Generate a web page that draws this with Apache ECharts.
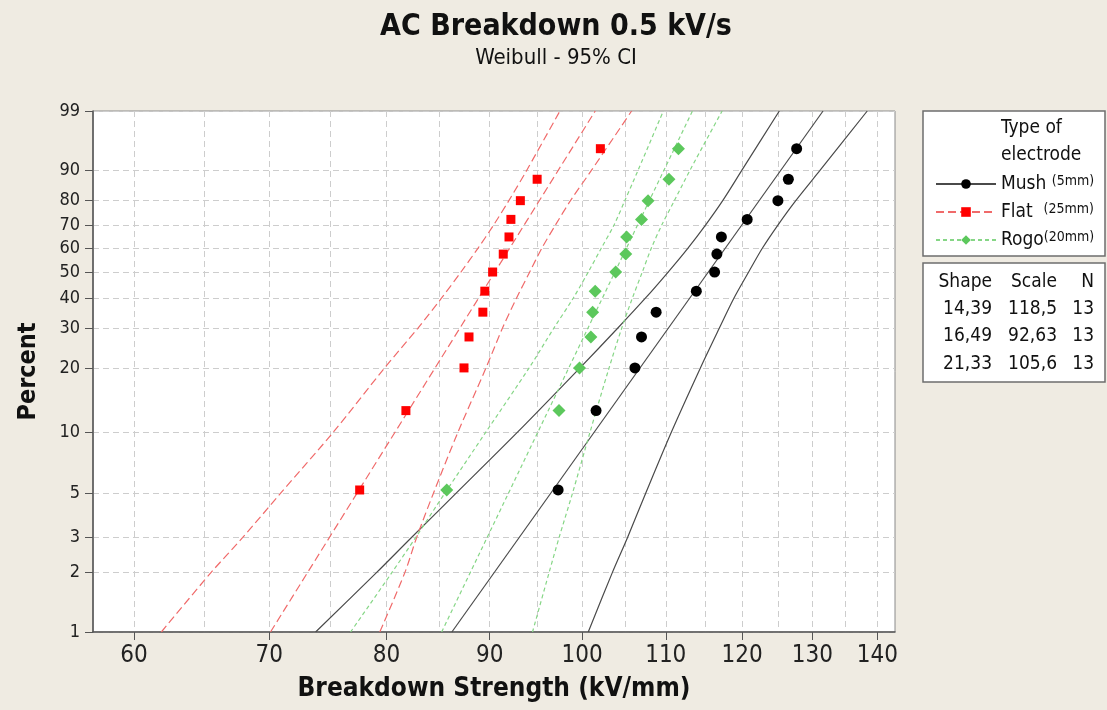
<!DOCTYPE html>
<html>
<head>
<meta charset="utf-8">
<script src="https://cdn.jsdelivr.net/npm/echarts@6/dist/echarts.min.js"></script>
<style>
  html, body { margin: 0; padding: 0; background: #efebe2; }
  #chart { width: 1107px; height: 710px; }
</style>
</head>
<body>
<div id="chart"></div>
<script>
// ---- data ----
var pctRank = [5.2, 12.7, 20.1, 27.6, 35.1, 42.5, 50, 57.5, 64.9, 72.4, 79.9, 87.3, 94.8];
var mushPts = [97.3, 101.6, 106.2, 107.0, 108.8, 113.9, 116.3, 116.6, 117.2, 120.7, 125.0, 126.5, 127.7];
var flatPts = [77.6, 81.8, 87.4, 87.9, 89.3, 89.5, 90.3, 91.4, 92.0, 92.2, 93.2, 95.0, 102.1];
var rogoPts = [85.7, 97.4, 99.7, 101.0, 101.2, 101.5, 103.9, 105.1, 105.2, 107.0, 107.8, 110.4, 111.6];

// fitted lines (percent 1 and 99)
var fitPct = [1, 99];
var mushFit = [86.2, 131.6];
var flatFit = [70.1, 101.5];
var rogoFit = [85.2, 113.4];

// 95% CI bounds
var ciPct = [1, 2, 3, 5, 10, 20, 30, 40, 50, 60, 70, 80, 90, 99];
var mushLo = [73.8, 79.1, 82.3, 86.6, 92.9, 99.7, 104.1, 107.5, 110.3, 112.8, 115.1, 117.4, 120.0, 125.2];
var mushHi = [100.7, 103.5, 105.3, 107.5, 110.7, 114.4, 116.9, 118.9, 120.9, 122.8, 125.0, 127.6, 131.2, 138.4];
var flatLo = [61.9, 65.5, 67.9, 70.9, 75.3, 79.8, 82.9, 85.2, 87.1, 88.8, 90.4, 92.0, 93.9, 97.5];
var flatHi = [79.4, 81.7, 82.8, 84.4, 86.8, 89.6, 91.3, 92.8, 94.2, 95.5, 97.0, 98.7, 101.1, 105.8];
var rogoLo = [76.8, 80.5, 82.7, 85.5, 89.6, 94.1, 96.8, 99.0, 100.7, 102.2, 103.7, 105.0, 106.6, 109.7];
var rogoHi = [94.5, 96.3, 97.4, 98.9, 100.9, 103.1, 104.6, 105.9, 107.1, 108.2, 109.5, 111.1, 113.1, 117.3];

// table
var shapes = [14.39, 16.49, 21.33];
var scales = [118.5, 92.63, 105.6];
var counts = [13, 13, 13];

// axes
var xMin = 57.26, xMax = 142.85;
var xMajor = [60, 70, 80, 90, 100, 110, 120, 130, 140];
var xGrid = [60, 65, 70, 75, 80, 85, 90, 95, 100, 105, 110, 115, 120, 125, 130, 135, 140];
var yTicks = [1, 2, 3, 5, 10, 20, 30, 40, 50, 60, 70, 80, 90, 99];

var FONT = '"DejaVu Sans Condensed", "DejaVu Sans", sans-serif';

// weibull paper: log x, log(-log(1-p)) y
function tx(v) { return Math.log(v); }
function ty(p) { return Math.log(-Math.log(1 - p / 100)); }
function pairs(vals, pcts) {
  return vals.map(function (v, i) { return [tx(v), ty(pcts[i])]; });
}

var groups = [
  { name: 'Mush', pts: mushPts, fit: mushFit, lo: mushLo, hi: mushHi,
    symbol: 'circle', size: 11, color: '#000000', line: '#4a4a4a', dash: 'solid' },
  { name: 'Flat', pts: flatPts, fit: flatFit, lo: flatLo, hi: flatHi,
    symbol: 'rect', size: 9, color: '#ff0000', line: '#f06a6a', dash: [8, 4] },
  { name: 'Rogo', pts: rogoPts, fit: rogoFit, lo: rogoLo, hi: rogoHi,
    symbol: 'diamond', size: 13, color: '#5cc85c', line: '#86d686', dash: [4, 3] }
];
var legendLabel = {
  Mush: 'Mush {s|(5mm)}',
  Flat: 'Flat  {s|(25mm)}',
  Rogo: 'Rogo{s|(20mm)}'
};

var series = [];
groups.forEach(function (g) {
  var ls = { color: g.line, width: 1.2, type: g.dash };
  series.push({
    name: g.name, type: 'line', data: pairs(g.fit, fitPct),
    symbol: g.symbol, symbolSize: g.size, showSymbol: false,
    itemStyle: { color: g.color }, lineStyle: ls, silent: true, z: 3
  });
  [g.lo, g.hi].forEach(function (b) {
    series.push({
      name: g.name + ' CI', type: 'line', data: pairs(b, ciPct),
      symbol: 'none', smooth: 0.3, lineStyle: ls, silent: true, z: 3
    });
  });
  series.push({
    name: g.name + ' data', type: 'scatter', data: pairs(g.pts, pctRank),
    symbol: g.symbol, symbolSize: g.size,
    itemStyle: { color: g.color, opacity: 1 }, z: 4
  });
});

function txt(x, y, s, size, align, weight) {
  return {
    type: 'text', x: x, y: y, z: 10,
    style: {
      text: s, fill: '#111', align: align || 'left', verticalAlign: 'middle',
      font: (weight || 'normal') + ' ' + size + 'px ' + FONT
    }
  };
}

var graphics = [
  { type: 'rect', x: 923, y: 111, z: 1, shape: { width: 182, height: 145 },
    style: { fill: '#ffffff', stroke: '#6e6e6e', lineWidth: 1.5 } },
  { type: 'rect', x: 923, y: 263, z: 1, shape: { width: 182, height: 119 },
    style: { fill: '#ffffff', stroke: '#6e6e6e', lineWidth: 1.5 } },
  txt(556, 27, 'AC Breakdown 0.5 kV/s', 30, 'center', 'bold'),
  txt(556, 58, 'Weibull - 95% CI', 22, 'center'),
  txt(1001, 128, 'Type of', 19),
  txt(1001, 155, 'electrode', 19),
  txt(992, 282, 'Shape', 19, 'right'),
  txt(1057, 282, 'Scale', 19, 'right'),
  txt(1094, 282, 'N', 19, 'right')
];
shapes.forEach(function (s, i) {
  var y = 309 + i * 27.5;
  graphics.push(txt(992, y, s.toFixed(2).replace('.', ','), 19, 'right'));
  graphics.push(txt(1057, y, scales[i].toPrecision(4).replace('.', ','), 19, 'right'));
  graphics.push(txt(1094, y, String(counts[i]), 19, 'right'));
});

var chart = echarts.init(document.getElementById('chart'));
chart.setOption({
  backgroundColor: '#efebe2',
  animation: false,
  grid: {
    left: 93, top: 111, right: 212, bottom: 78,
    show: true, backgroundColor: '#ffffff', borderColor: '#8a8a8a', borderWidth: 1
  },
  legend: {
    data: ['Mush', 'Flat', 'Rogo'],
    orient: 'vertical', left: 930, top: 169,
    itemWidth: 60, itemHeight: 12, itemGap: 8,
    selectedMode: false,
    formatter: function (n) { return legendLabel[n]; },
    textStyle: {
      fontFamily: FONT, fontSize: 19, color: '#111', lineHeight: 20,
      rich: { s: { fontFamily: FONT, fontSize: 14, color: '#111', verticalAlign: 'top', lineHeight: 16 } }
    }
  },
  xAxis: [{
    type: 'value', min: tx(xMin), max: tx(xMax),
    name: 'Breakdown Strength (kV/mm)', nameLocation: 'middle', nameGap: 44,
    nameTextStyle: { fontFamily: FONT, fontSize: 26, fontWeight: 'bold', color: '#111' },
    axisLine: { show: true, onZero: false, lineStyle: { color: '#555', width: 1.5 } },
    axisTick: { show: true, length: 8, customValues: xMajor.map(tx), lineStyle: { color: '#555' } },
    axisLabel: {
      customValues: xMajor.map(tx), margin: 12,
      fontFamily: FONT, fontSize: 24, color: '#222',
      formatter: function (v) { return Math.round(Math.exp(v)); }
    },
    splitLine: { show: false }
  }, {
    type: 'value', min: tx(xMin), max: tx(xMax), position: 'bottom',
    axisLine: { show: false },
    axisTick: { show: false, customValues: xGrid.map(tx) },
    axisLabel: { show: false },
    splitLine: { show: true, lineStyle: { color: '#cdcdcd', type: [6, 4] } }
  }],
  yAxis: {
    type: 'value', min: ty(1), max: ty(99),
    name: 'Percent', nameLocation: 'middle', nameGap: 52,
    nameTextStyle: { fontFamily: FONT, fontSize: 25, fontWeight: 'bold', color: '#111' },
    axisLine: { show: true, onZero: false, lineStyle: { color: '#555', width: 1.5 } },
    axisTick: { show: true, length: 8, customValues: yTicks.map(ty), lineStyle: { color: '#555' } },
    axisLabel: {
      customValues: yTicks.map(ty), margin: 13,
      fontFamily: FONT, fontSize: 18, color: '#222',
      formatter: function (v) { return Math.round(100 * (1 - Math.exp(-Math.exp(v)))); }
    },
    splitLine: { show: true, lineStyle: { color: '#cdcdcd', type: [6, 4] } }
  },
  graphic: graphics,
  series: series
});
</script>
</body>
</html>
